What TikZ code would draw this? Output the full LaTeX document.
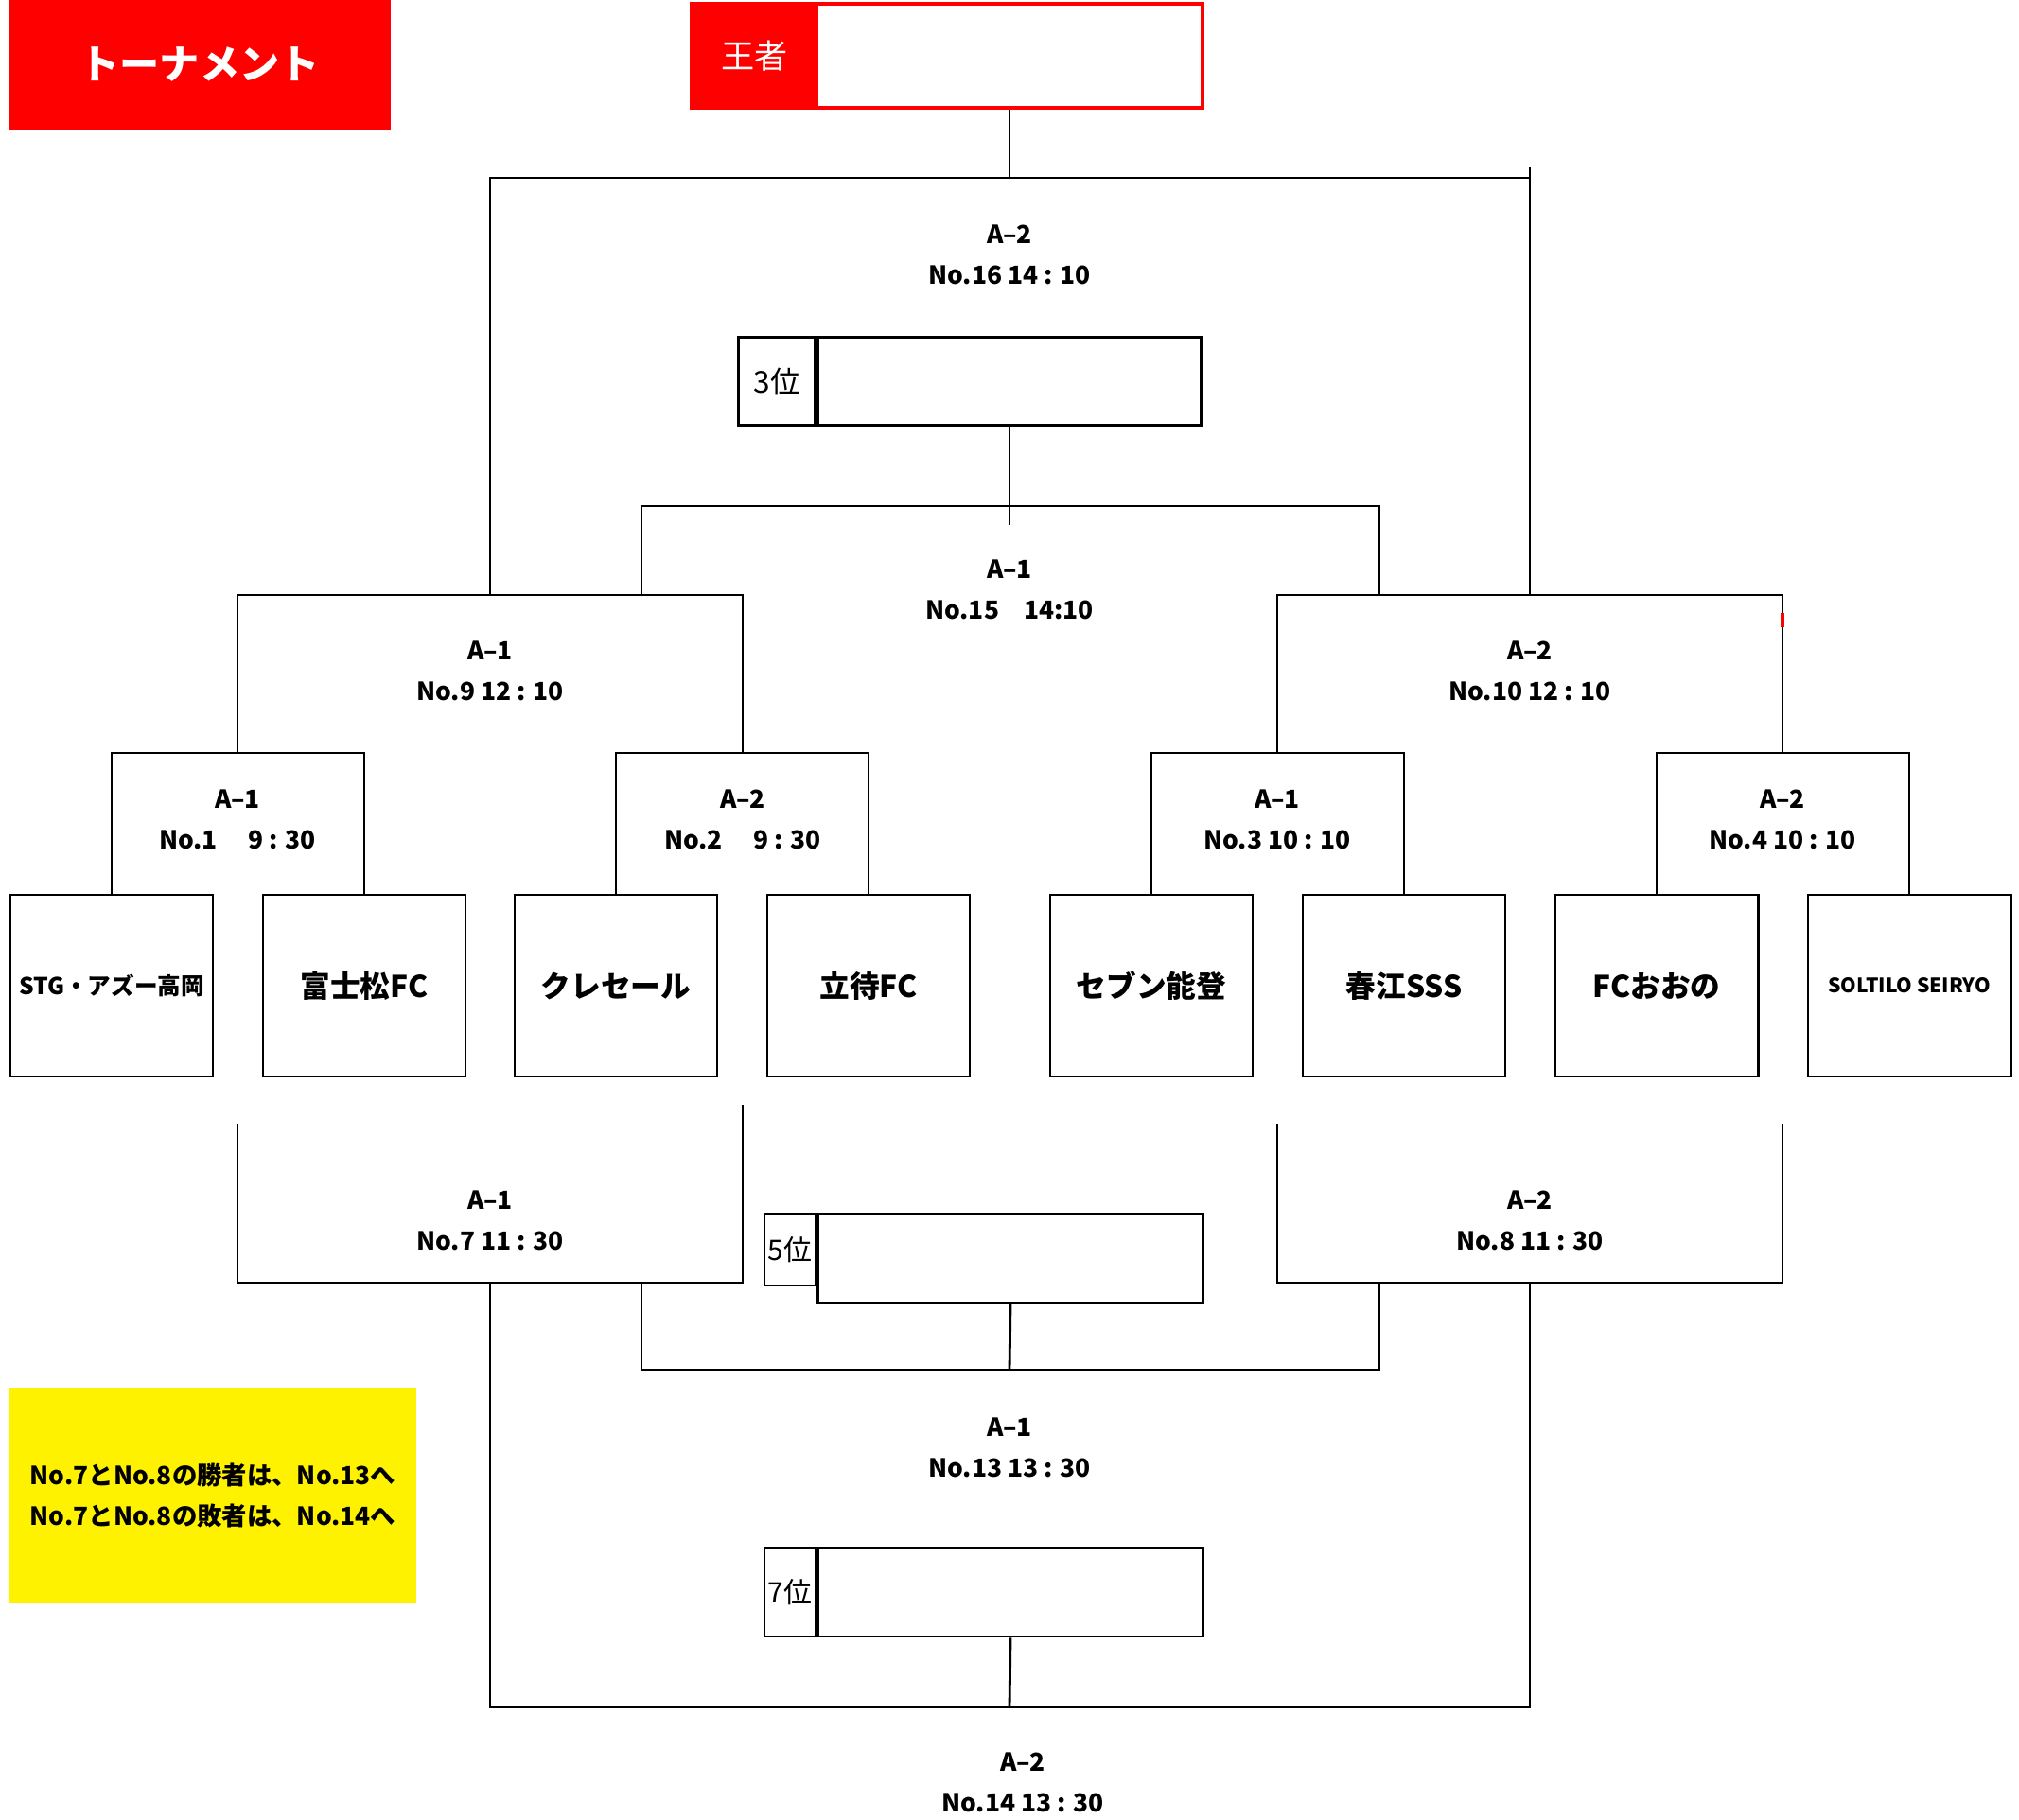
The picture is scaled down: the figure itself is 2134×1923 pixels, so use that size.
\documentclass[tikz,border=0pt]{standalone}
\usepackage{fontspec}
\setmainfont{Noto Sans CJK JP}
\tikzset{
  team/.style={draw, line width=0.8pt, minimum width=2.14cm, minimum height=1.92cm, inner sep=0pt},
  game/.style={align=center, font=\bfseries\fontsize{7.5}{12.3}\selectfont},
  bracket/.style={line width=0.8pt},
  rankbox/.style={draw, line width=0.8pt, minimum width=4.05cm, minimum height=0.93cm, inner sep=0pt},
  ranklbl/.style={draw, line width=0.8pt, inner sep=0pt, font=\fontsize{9}{9}\selectfont},
}
\begin{document}
\begin{tikzpicture}[x=0.01cm, y=-0.01cm]
  \useasboundingbox (0,0) rectangle (2134,1923);

  % Title and champion
  \node[fill=red, minimum width=4.03cm, minimum height=1.37cm, text=white,
        font=\bfseries\fontsize{12}{12}\selectfont] (title) at (211,68) {トーナメント};
  \node[draw=red, line width=1pt, minimum width=5.4cm, minimum height=1.1cm] (champ) at (1001,59) {};
  \node[fill=red, anchor=west, minimum width=1.35cm, minimum height=1.12cm, text=white,
        font=\fontsize{10}{10}\selectfont] (champl) at (champ.west) {王者};

  % Teams
  \foreach \i/\x/\sz/\name in {1/118/7/STG・アズー高岡, 2/385/9/富士松FC, 3/651/9/クレセール,
      4/918/9/立待FC, 5/1217/9/セブン能登, 6/1484/9/春江SSS, 7/1751/9/FCおおの, 8/2018/6/SOLTILO SEIRYO} {
    \node[team, font=\bfseries\fontsize{\sz}{\sz}\selectfont] (t\i) at (\x,1042) {\name};
  }

  % First round
  \foreach \a/\b/\c/\x in {1/2/c1/251, 3/4/c2/785, 5/6/c3/1350, 7/8/c4/1884} {
    \coordinate (\c) at (\x,796);
    \draw[bracket] (t\a.north) |- (\c) -| (t\b.north);
  }
  \node[game] (g1) at (251,866) {A–1\\No.1　 9 : 30};
  \node[game] (g2) at (785,866) {A–2\\No.2　 9 : 30};
  \node[game] (g3) at (1350,866) {A–1\\No.3 10 : 10};
  \node[game] (g4) at (1884,866) {A–2\\No.4 10 : 10};

  % Semi finals
  \coordinate (c9) at (518,629);
  \coordinate (c10) at (1617,629);
  \draw[bracket] (c1) |- (c9) -| (c2);
  \draw[bracket] (c3) |- (c10) -| (c4);
  \draw[red, line width=1pt] (1884,648) -- (1884,663);
  \node[game] (g9) at (518,709) {A–1\\No.9 12 : 10};
  \node[game] (g10) at (1617,709) {A–2\\No.10 12 : 10};

  % Final
  \coordinate (cf) at (1067,188);
  \coordinate (ftop) at (1617,177);
  \draw[bracket] (c9) |- (cf) -| (c10);
  \draw[bracket] (c10) -- (ftop);
  \draw[bracket] (cf) -- (cf |- champ.south);
  \node[game] (g16) at (1067,269) {A–2\\No.16 14 : 10};

  % 3rd place
  \node[rankbox] (r3) at (1067,403) {};
  \node[ranklbl, anchor=east, minimum width=0.81cm, minimum height=0.93cm] (r3l) at (r3.west) {3位};
  \coordinate (c9b) at (678,629);
  \coordinate (c10b) at (1458,629);
  \coordinate (s3) at (1067,535);
  \coordinate (s3e) at (1067,555);
  \draw[bracket] (c9b) |- (s3) -| (c10b);
  \draw[bracket] (r3.south) -- (s3e);
  \node[game] (g15) at (1067,623) {A–1\\No.15　14:10};

  % Losers side
  \coordinate (d1) at (251,1188);
  \coordinate (d2) at (785,1168);
  \coordinate (d3) at (1350,1188);
  \coordinate (d4) at (1884,1188);
  \coordinate (c7) at (518,1356);
  \coordinate (c8) at (1617,1356);
  \draw[bracket] (d1) |- (c7) -| (d2);
  \draw[bracket] (d3) |- (c8) -| (d4);
  \node[game] (g7) at (518,1290) {A–1\\No.7 11 : 30};
  \node[game] (g8) at (1617,1290) {A–2\\No.8 11 : 30};

  % 5th place
  \node[rankbox, minimum width=4.06cm, minimum height=0.94cm] (r5) at (1068,1330) {};
  \node[ranklbl, anchor=north east, minimum width=0.54cm, minimum height=0.76cm,
        font=\fontsize{8.5}{8.5}\selectfont] (r5l) at (r5.north west) {5位};
  \coordinate (c7b) at (678,1356);
  \coordinate (c8b) at (1458,1356);
  \coordinate (s5) at (1067,1448);
  \draw[bracket] (c7b) |- (s5) -| (c8b);
  \draw[bracket] (r5.south) -- (s5);
  \node[game] (g13) at (1067,1530) {A–1\\No.13 13 : 30};

  % 7th place
  \node[rankbox, minimum width=4.06cm, minimum height=0.94cm] (r7) at (1068,1683) {};
  \node[ranklbl, anchor=east, minimum width=0.54cm, minimum height=0.94cm,
        font=\fontsize{8.5}{8.5}\selectfont] (r7l) at (r7.west) {7位};
  \coordinate (s7) at (1067,1805);
  \draw[bracket] (c7) |- (s7) -| (c8);
  \draw[bracket] (r7.south) -- (s7);
  \node[game] (g14) at (1081,1884) {A–2\\No.14 13 : 30};

  % Note
  \node[fill=yellow, minimum width=4.3cm, minimum height=2.28cm, align=center,
        font=\bfseries\fontsize{7.5}{12.3}\selectfont] (note) at (225,1581)
        {No.7とNo.8の勝者は、No.13へ\\No.7とNo.8の敗者は、No.14へ};
\end{tikzpicture}
\end{document}
